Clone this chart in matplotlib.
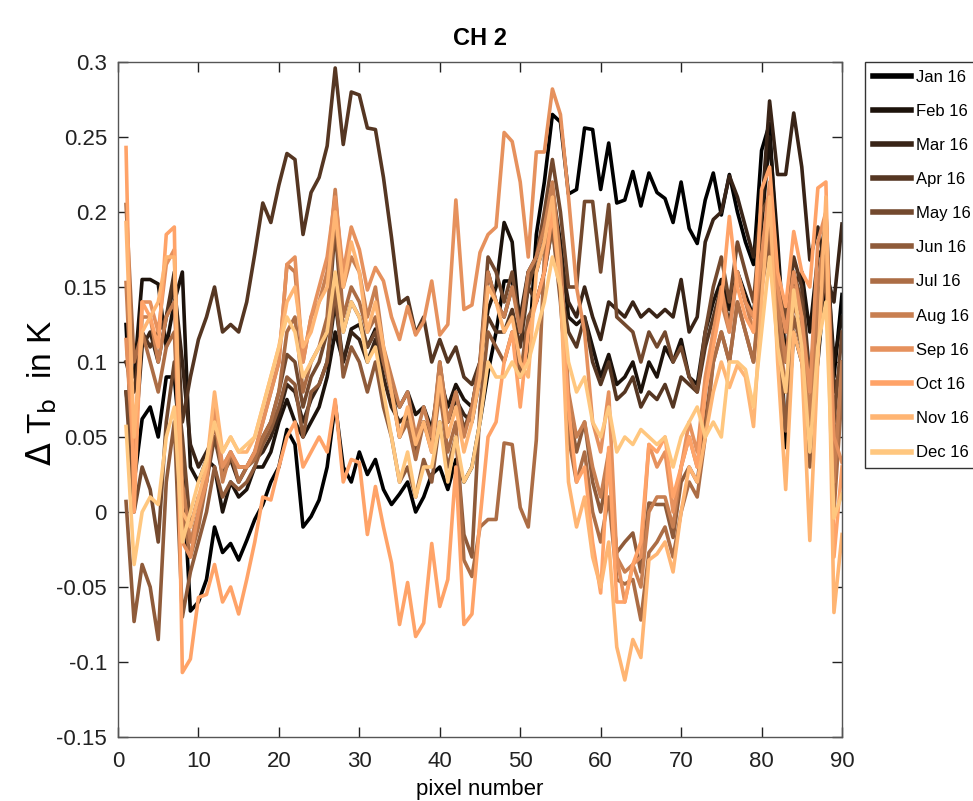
import matplotlib
matplotlib.use("Agg")
import matplotlib.pyplot as plt
import numpy as np

pixels = list(range(1, 91))
months = ["Jan 16", "Feb 16", "Mar 16", "Apr 16", "May 16", "Jun 16",
          "Jul 16", "Aug 16", "Sep 16", "Oct 16", "Nov 16", "Dec 16"]

jan = [0.125, 0.02, 0.062, 0.07, 0.05, 0.09, 0.09, 0.03, -0.066, -0.06, -0.045, -0.01, -0.027, -0.021, -0.032, -0.019, -0.005, 0.005, 0.02, 0.03,
       0.055, 0.045, -0.01, -0.003, 0.008, 0.03, 0.072, 0.03, 0.02, 0.04, 0.025, 0.035, 0.015, 0.005, 0.012, 0.02, 0.0, 0.01, 0.025, 0.03,
       0.015, 0.035, 0.02, 0.03, 0.06, 0.093, 0.12, 0.154, 0.154, 0.13, 0.1, 0.185, 0.22, 0.265, 0.26, 0.212, 0.215, 0.256, 0.255, 0.215,
       0.246, 0.206, 0.208, 0.227, 0.204, 0.226, 0.213, 0.209, 0.193, 0.22, 0.189, 0.179, 0.208, 0.226, 0.198, 0.225, 0.2, 0.18, 0.165, 0.241,
       0.259, 0.16, 0.043, 0.12, 0.1, 0.063, 0.1, 0.16, 0.09, 0.145]
feb = [0.1, 0.09, 0.155, 0.155, 0.152, 0.11, 0.14, 0.16, 0.03, 0.02, 0.035, 0.03, 0.0, 0.02, 0.01, 0.015, 0.03, 0.03, 0.04, 0.06,
       0.075, 0.06, 0.05, 0.06, 0.07, 0.09, 0.12, 0.1, 0.122, 0.125, 0.11, 0.122, 0.1, 0.08, 0.07, 0.08, 0.065, 0.07, 0.055, 0.09,
       0.07, 0.085, 0.075, 0.07, 0.1, 0.135, 0.15, 0.193, 0.18, 0.12, 0.16, 0.17, 0.19, 0.215, 0.18, 0.13, 0.125, 0.13, 0.11, 0.09,
       0.105, 0.085, 0.09, 0.1, 0.08, 0.1, 0.09, 0.11, 0.1, 0.115, 0.09, 0.085, 0.12, 0.14, 0.155, 0.135, 0.16, 0.145, 0.13, 0.19,
       0.25, 0.18, 0.1, 0.15, 0.16, 0.12, 0.17, 0.18, 0.1, 0.13]
mar = [0.08, 0.04, 0.11, 0.12, 0.1, 0.13, 0.15, 0.1, 0.045, 0.03, 0.04, 0.05, 0.03, 0.035, 0.02, 0.03, 0.035, 0.04, 0.05, 0.065,
       0.085, 0.08, 0.06, 0.075, 0.085, 0.1, 0.14, 0.1, 0.12, 0.115, 0.1, 0.115, 0.09, 0.07, 0.06, 0.065, 0.05, 0.06, 0.05, 0.08,
       0.06, 0.075, 0.065, 0.06, 0.09, 0.16, 0.14, 0.13, 0.15, 0.13, 0.16, 0.16, 0.18, 0.2, 0.17, 0.14, 0.13, 0.15, 0.13, 0.115,
       0.14, 0.135, 0.13, 0.14, 0.13, 0.135, 0.13, 0.135, 0.13, 0.155, 0.12, 0.13, 0.18, 0.195, 0.2, 0.224, 0.21, 0.19, 0.17, 0.2,
       0.274, 0.225, 0.225, 0.266, 0.23, 0.168, 0.19, 0.16, 0.14, 0.192]
apr = [0.1, 0.08, 0.12, 0.11, 0.12, 0.13, 0.16, 0.06, 0.09, 0.115, 0.13, 0.15, 0.12, 0.125, 0.12, 0.14, 0.172, 0.206, 0.193, 0.218,
       0.239, 0.235, 0.185, 0.213, 0.223, 0.244, 0.296, 0.245, 0.28, 0.278, 0.256, 0.255, 0.223, 0.183, 0.139, 0.143, 0.119, 0.13, 0.1, 0.115,
       0.1, 0.11, 0.09, 0.085, 0.1, 0.13, 0.12, 0.12, 0.135, 0.11, 0.15, 0.14, 0.16, 0.19, 0.15, 0.12, 0.11, 0.13, 0.1, 0.085,
       0.1, 0.075, 0.08, 0.09, 0.07, 0.08, 0.075, 0.085, 0.07, 0.09, 0.085, 0.08, 0.11, 0.13, 0.15, 0.125, 0.16, 0.14, 0.13, 0.18,
       0.2, 0.15, 0.12, 0.17, 0.15, 0.09, 0.14, 0.2, 0.08, 0.1]
may = [0.08, 0.0, 0.03, 0.015, -0.02, 0.06, 0.1, 0.05, -0.01, 0.01, 0.02, 0.05, 0.025, 0.035, 0.03, 0.03, 0.04, 0.05, 0.06, 0.08,
       0.105, 0.1, 0.07, 0.09, 0.1, 0.12, 0.19, 0.12, 0.14, 0.13, 0.11, 0.12, 0.1, 0.085, 0.05, 0.065, 0.04, 0.06, 0.045, 0.1,
       0.06, 0.08, 0.055, 0.07, 0.1, 0.17, 0.16, 0.14, 0.16, 0.12, 0.15, 0.17, 0.2, 0.235, 0.2, 0.15, 0.15, 0.207, 0.207, 0.16,
       0.205, 0.13, 0.125, 0.12, 0.1, 0.12, 0.11, 0.12, 0.1, 0.11, 0.09, 0.08, 0.12, 0.15, 0.17, 0.14, 0.18, 0.16, 0.14, 0.2,
       0.21, 0.16, 0.13, 0.16, 0.14, 0.08, 0.15, 0.17, 0.06, 0.12]
jun = [0.007, -0.073, -0.035, -0.05, -0.085, 0.02, 0.06, -0.07, -0.04, -0.02, 0.0, 0.03, 0.01, 0.02, 0.015, 0.02, 0.03, 0.045, 0.055, 0.07,
       0.09, 0.085, 0.05, 0.08, 0.085, 0.1, 0.15, 0.09, 0.11, 0.1, 0.08, 0.1, 0.07, 0.05, 0.02, 0.03, 0.01, 0.035, 0.02, 0.06,
       0.03, 0.05, -0.015, -0.03, 0.07, 0.12, 0.11, 0.1, 0.12, 0.09, 0.13, 0.14, 0.16, 0.19, 0.14, 0.07, 0.04, 0.06, 0.02, 0.0,
       0.03, -0.027, -0.02, -0.014, -0.04, 0.006, 0.005, 0.005, -0.017, 0.02, 0.03, 0.02, 0.06, 0.1, 0.12, 0.1, 0.14, 0.12, 0.1, 0.15,
       0.18, 0.12, 0.054, 0.13, 0.11, 0.03, 0.12, 0.16, 0.04, 0.09]
jul = [0.205, 0.1, 0.12, 0.1, 0.08, 0.11, 0.12, 0.0, -0.03, -0.01, 0.02, 0.06, 0.03, 0.04, 0.02, 0.03, 0.035, 0.05, 0.06, 0.08,
       0.12, 0.13, 0.08, 0.1, 0.11, 0.13, 0.2, 0.13, 0.15, 0.14, 0.12, 0.13, 0.1, 0.08, 0.05, 0.06, 0.035, 0.06, 0.04, 0.08,
       0.04, 0.06, -0.032, -0.043, -0.01, -0.005, -0.005, 0.046, 0.045, 0.003, -0.01, 0.048, 0.17, 0.2, 0.15, 0.05, 0.02, 0.04, 0.0, -0.02,
       0.01, -0.045, -0.048, -0.045, -0.072, -0.027, -0.02, -0.01, -0.03, 0.0, 0.02, 0.01, 0.05, 0.1, 0.12, 0.1, 0.14, 0.12, 0.1, 0.16,
       0.19, 0.13, 0.08, 0.14, 0.12, 0.05, 0.13, 0.17, 0.0, 0.08]
aug = [0.153, 0.04, 0.13, 0.13, 0.1, 0.13, 0.14, 0.02, -0.02, 0.0, 0.03, 0.07, 0.02, 0.04, 0.03, 0.03, 0.04, 0.06, 0.08, 0.1,
       0.165, 0.16, 0.1, 0.13, 0.14, 0.16, 0.215, 0.15, 0.17, 0.16, 0.13, 0.15, 0.11, 0.09, 0.07, 0.08, 0.05, 0.07, 0.05, 0.1,
       0.06, 0.08, 0.05, 0.07, 0.1, 0.16, 0.14, 0.13, 0.15, 0.12, 0.16, 0.17, 0.19, 0.22, 0.17, 0.08, 0.05, 0.06, 0.03, 0.01,
       0.04, -0.03, -0.04, -0.035, -0.05, 0.0, 0.01, 0.01, -0.01, 0.03, 0.05, 0.03, 0.08, 0.12, 0.14, 0.12, 0.16, 0.14, 0.12, 0.17,
       0.2, 0.14, 0.1, 0.15, 0.13, 0.06, 0.15, 0.19, 0.02, 0.1]
sep = [0.115, 0.03, 0.14, 0.14, 0.12, 0.165, 0.175, -0.02, -0.03, 0.0, 0.02, 0.07, 0.03, 0.04, 0.03, 0.03, 0.04, 0.06, 0.08, 0.1,
       0.165, 0.17, 0.1, 0.13, 0.15, 0.17, 0.21, 0.16, 0.19, 0.175, 0.148, 0.163, 0.154, 0.13, 0.115, 0.137, 0.118, 0.127, 0.154, 0.118,
       0.125, 0.208, 0.135, 0.138, 0.173, 0.185, 0.19, 0.253, 0.247, 0.22, 0.17, 0.24, 0.24, 0.282, 0.265, 0.21, 0.15, 0.12, 0.06, 0.04,
       0.08, -0.03, -0.06, -0.035, -0.03, 0.045, 0.03, 0.04, 0.0, 0.03, 0.06, 0.04, 0.09, 0.12, 0.15, 0.12, 0.16, 0.14, 0.13, 0.17,
       0.22, 0.15, 0.12, 0.16, 0.13, 0.08, 0.18, 0.2, 0.05, 0.033]
oct_ = [0.243, 0.0, 0.14, 0.13, 0.11, 0.185, 0.19, -0.107, -0.098, -0.057, -0.055, -0.035, -0.06, -0.05, -0.068, -0.045, -0.02, 0.01, 0.008, 0.03,
        0.05, 0.06, 0.03, 0.04, 0.05, 0.04, 0.075, 0.02, 0.035, 0.033, -0.015, 0.017, -0.01, -0.034, -0.075, -0.047, -0.083, -0.074, -0.021, -0.063,
        -0.045, 0.03, -0.075, -0.068, -0.005, 0.05, 0.06, 0.1, 0.12, 0.07, 0.12, 0.14, 0.16, 0.2, 0.15, 0.07, 0.02, 0.03, -0.02, -0.054,
        0.043, -0.06, -0.06, -0.035, -0.02, 0.045, 0.04, 0.05, 0.01, 0.03, 0.05, 0.03, 0.08, 0.11, 0.14, 0.197, 0.15, 0.13, 0.12, 0.215,
        0.23, 0.16, 0.137, 0.187, 0.16, 0.15, 0.216, 0.22, -0.03, 0.03]
nov = [0.193, 0.05, 0.12, 0.13, 0.14, 0.17, 0.17, 0.0, -0.01, 0.01, 0.03, 0.08, 0.04, 0.05, 0.04, 0.04, 0.05, 0.07, 0.09, 0.11,
       0.14, 0.15, 0.11, 0.12, 0.14, 0.15, 0.2, 0.15, 0.18, 0.16, 0.12, 0.14, 0.11, 0.08, 0.05, 0.07, 0.045, 0.06, 0.04, 0.09,
       0.05, 0.07, 0.04, 0.06, 0.09, 0.15, 0.14, 0.12, 0.13, 0.1, 0.09, 0.16, 0.18, 0.21, 0.15, 0.02, -0.01, 0.01, -0.03, -0.05,
       -0.02, -0.09, -0.112, -0.085, -0.097, -0.032, -0.028, -0.02, -0.04, 0.0, 0.03, 0.02, 0.05, 0.08, 0.1, 0.083, 0.098, 0.09, 0.057, 0.14,
       0.21, 0.1, 0.015, 0.12, 0.1, -0.019, 0.1, 0.21, -0.067, -0.015]
dec = [0.057, -0.035, 0.0, 0.01, 0.005, 0.05, 0.07, -0.02, 0.0, 0.02, 0.035, 0.06, 0.04, 0.05, 0.04, 0.045, 0.05, 0.07, 0.09, 0.11,
       0.13, 0.12, 0.09, 0.1, 0.11, 0.12, 0.16, 0.12, 0.14, 0.13, 0.1, 0.11, 0.08, 0.05, 0.02, 0.04, 0.01, 0.03, 0.03, 0.06,
       0.02, 0.05, 0.02, 0.03, 0.06, 0.1, 0.09, 0.09, 0.1, 0.09, 0.1, 0.12, 0.14, 0.17, 0.15, 0.1, 0.08, 0.09, 0.06, 0.05,
       0.07, 0.04, 0.05, 0.045, 0.055, 0.05, 0.045, 0.05, 0.03, 0.05, 0.06, 0.07, 0.05, 0.06, 0.05, 0.1, 0.1, 0.095, 0.07, 0.12,
       0.17, 0.11, 0.08, 0.148, 0.11, 0.04, 0.11, 0.14, -0.004, 0.012]

series = [jan, feb, mar, apr, may, jun, jul, aug, sep, oct_, nov, dec]

xticks = [0, 10, 20, 30, 40, 50, 60, 70, 80, 90]
yticks = [-0.15, -0.1, -0.05, 0, 0.05, 0.1, 0.15, 0.2, 0.25, 0.3]
yticklabels = ["-0.15", "-0.1", "-0.05", "0", "0.05", "0.1", "0.15", "0.2", "0.25", "0.3"]

plt.rcParams['font.family'] = ['Liberation Sans', 'DejaVu Sans']

fig = plt.figure(figsize=(9.73, 8.01), dpi=100)
ax = fig.add_axes([118/973, 1-737/801, (842-118)/973, (737-62)/801])

cmap = plt.get_cmap('copper')
for i, (name, vals) in enumerate(zip(months, series)):
    ax.plot(pixels, vals, color=cmap(i/11), lw=2.6, label=name)

ax.set_xlim(0, 90)
ax.set_ylim(-0.15, 0.3)
ax.set_xticks(xticks)
ax.set_xticklabels([str(t) for t in xticks])
ax.set_yticks(yticks)
ax.set_yticklabels(yticklabels)
ax.tick_params(direction='in', length=7, width=1, top=True, right=True,
               labelsize=16, colors='#222222', pad=8)
ax.tick_params(axis='x', pad=10)
for s in ax.spines.values():
    s.set_color('#555555')
    s.set_linewidth(1)

ax.set_title('CH 2', fontsize=17, fontweight='bold', pad=12)
ax.set_ylabel(r'$\Delta$ T$_{\mathrm{b}}$  in K', fontsize=24)
ax.yaxis.set_label_coords(-0.082, 0.51)
ax.set_xlabel('pixel number', fontsize=16, labelpad=5)

leg = ax.legend(loc='upper left', bbox_to_anchor=(865/973, 1-62/801),
                bbox_transform=fig.transFigure, prop={'size': 12}, frameon=True,
                fancybox=False, edgecolor='black', handlelength=2.3,
                handletextpad=0.3, labelspacing=1.15, borderpad=0.45,
                borderaxespad=0)
leg.get_frame().set_linewidth(1)
for l in leg.get_lines():
    l.set_linewidth(4)

fig.savefig('out.png', dpi=100)
